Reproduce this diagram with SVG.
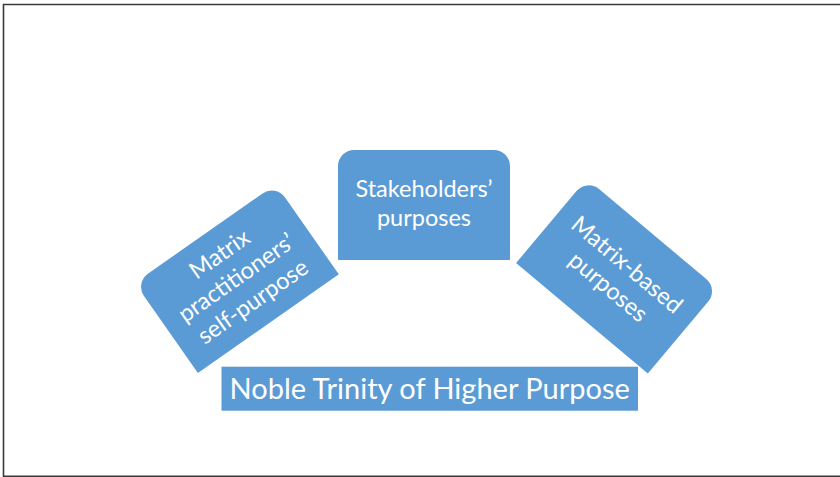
<svg xmlns="http://www.w3.org/2000/svg" width="840" height="477" viewBox="0 0 840 477">
<style>
.box{fill:#5B9BD5;}
.t{fill:#FFFFFF;font-family:Lato,"Open Sans",sans-serif;font-size:23.5px;text-anchor:middle;}
.big{fill:#FFFFFF;font-family:Lato,"Open Sans",sans-serif;font-size:29px;text-anchor:middle;}
.frame{stroke:#3a3a3a;stroke-width:1.6;fill:none;}
</style>
<defs>
<path id="tab" d="M -86,55 L -86,-39 A16,16 0 0 1 -70,-55 L 70,-55 A16,16 0 0 1 86,-39 L 86,55 Z"/>
</defs>
<rect x="0" y="0" width="840" height="477" fill="#FFFFFF"/>
<path class="frame" d="M 3.5,477 L 3.5,4.5 L 840,4.5 M 3.5,476.2 L 840,476.2"/>
<g id="connectors"></g>
<g id="node-left" transform="translate(236.8,278.6) rotate(-35)">
<use href="#tab" class="box"/>
<text class="t" x="0" y="-22">Matrix</text>
<text class="t" x="0" y="7">practitioners’</text>
<text class="t" x="0" y="36">self-purpose</text>
</g>
<g id="node-right" transform="translate(617.3,276.2) rotate(40)">
<use href="#tab" class="box"/>
<text class="t" x="0" y="-7">Matrix-based</text>
<text class="t" x="0" y="22">purposes</text>
</g>
<g id="node-center" transform="translate(424,205)">
<use href="#tab" class="box"/>
<text class="t" x="0" y="-8">Stakeholders’</text>
<text class="t" x="0" y="21">purposes</text>
</g>
<g id="node-title">
<rect class="box" x="221.5" y="366.7" width="416.5" height="44"/>
<text class="big" x="429.7" y="399">Noble Trinity of Higher Purpose</text>
</g>
</svg>
